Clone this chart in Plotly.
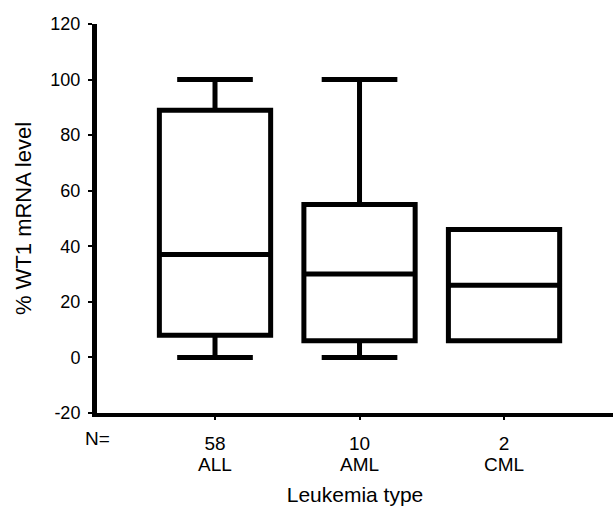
import plotly.graph_objects as go

# Data
categories = ["ALL", "AML", "CML"]
n_counts = ["58", "10", "2"]
lower_fence = [0, 0, 6]
q1 = [8, 6, 6]
median = [37, 30, 26]
q3 = [89, 55, 46]
upper_fence = [100, 100, 46]
y_ticks = [-20, 0, 20, 40, 60, 80, 100, 120]
y_tick_text = ["-20", "0", "20", "40", "60", "80", "100", "120"]

positions = [1, 2, 3]

FONT = "Arial, Liberation Sans, sans-serif"

fig = go.Figure()
for i, cat in enumerate(categories):
    fig.add_trace(go.Box(
        x=[positions[i]],
        q1=[q1[i]], median=[median[i]], q3=[q3[i]],
        lowerfence=[lower_fence[i]], upperfence=[upper_fence[i]],
        name=cat,
        width=0.77,
        whiskerwidth=0.68,
        line=dict(color="black", width=5),
        fillcolor="white",
        boxpoints=False,
        showlegend=False,
        hoverinfo="skip",
    ))

# category names under N counts
for i, cat in enumerate(categories):
    fig.add_annotation(x=positions[i], y=-0.133, xref="x", yref="paper",
                       text=cat, showarrow=False, yanchor="middle",
                       font=dict(family=FONT, size=19, color="black"))
fig.add_annotation(x=0.0, y=-0.066, xref="paper", yref="paper", text="N=",
                   showarrow=False, xanchor="center", yanchor="middle",
                   font=dict(family=FONT, size=19, color="black"))

fig.update_layout(
    width=613, height=510,
    margin=dict(l=97, r=0, t=24, b=97),
    paper_bgcolor="white", plot_bgcolor="white",
    font=dict(family=FONT, size=19, color="black"),
    xaxis=dict(
        range=[0.1834, 3.754],
        tickvals=positions, ticktext=n_counts,
        ticks="outside", ticklen=3, tickwidth=2, tickcolor="black",
        ticklabelstandoff=7,
        showline=True, linecolor="black", linewidth=4,
        showgrid=False, zeroline=False,
        tickfont=dict(family=FONT, size=19),
        title=dict(text="Leukemia type", font=dict(family=FONT, size=21), standoff=36),
    ),
    yaxis=dict(
        range=[-20, 120],
        tickvals=y_ticks, ticktext=y_tick_text,
        ticks="outside", ticklen=4, tickwidth=2, tickcolor="black",
        ticklabelstandoff=4,
        showline=True, linecolor="black", linewidth=5,
        showgrid=False, zeroline=False,
        tickfont=dict(family=FONT, size=18),
        title=dict(text="% WT1 mRNA level", font=dict(family=FONT, size=22), standoff=14),
    ),
)

fig.write_html("out.html")
